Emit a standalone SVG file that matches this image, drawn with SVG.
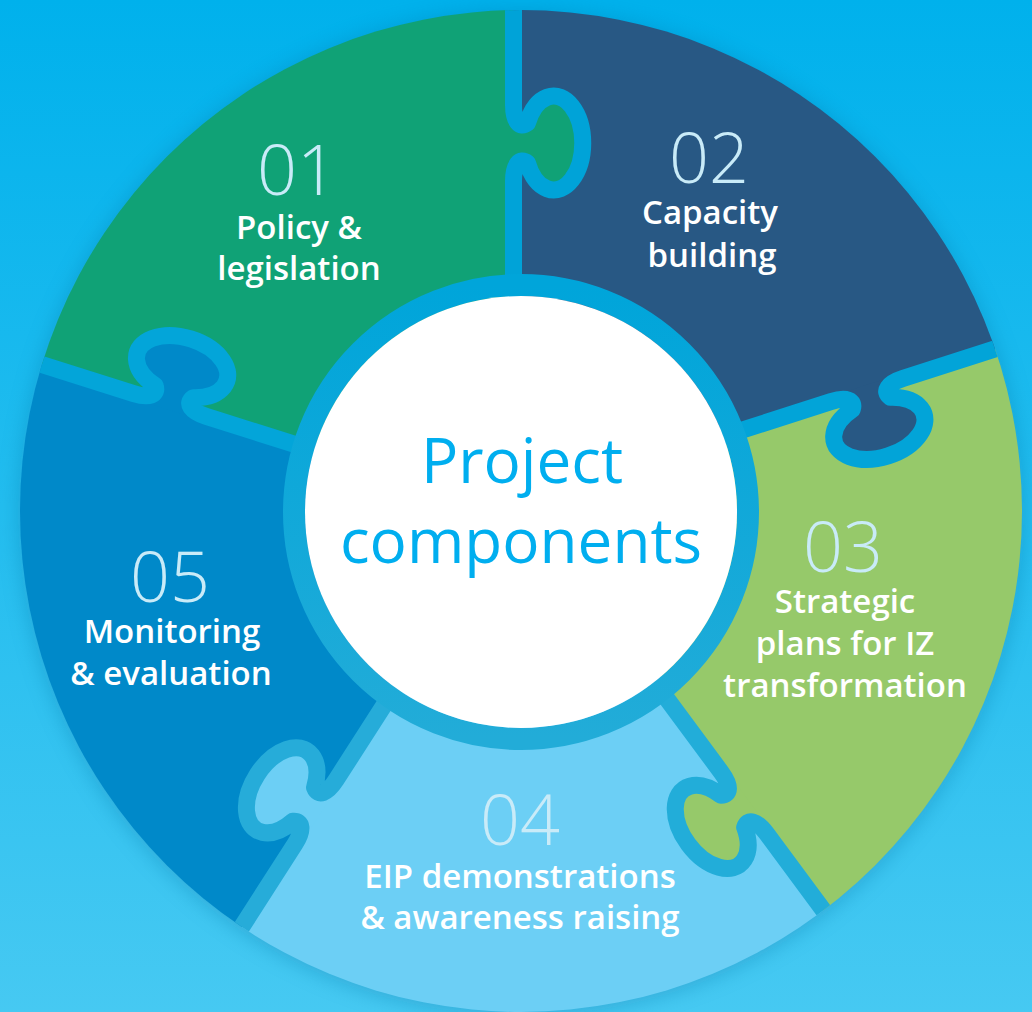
<svg xmlns="http://www.w3.org/2000/svg" xmlns:xlink="http://www.w3.org/1999/xlink" width="1032" height="1012" viewBox="0 0 1032 1012">
<defs>
<linearGradient id="bg" x1="0" y1="0" x2="0" y2="1012" gradientUnits="userSpaceOnUse">
<stop offset="0" stop-color="#00b1ec"/>
<stop offset="1" stop-color="#46c9f2"/>
</linearGradient>
<linearGradient id="ringg" x1="0" y1="286" x2="0" y2="738" gradientUnits="userSpaceOnUse">
<stop offset="0" stop-color="#00a5da"/>
<stop offset="1" stop-color="#22acd8"/>
</linearGradient>
<filter id="shadow" x="-20%" y="-20%" width="140%" height="140%">
<feGaussianBlur stdDeviation="10"/>
</filter>
<clipPath id="disc"><circle cx="521" cy="511" r="501"/></clipPath>
<path id="div" d="M -160 0 L -38 0 C -22 0 -14 6 -20 14 A 47 29 0 1 0 20 14 C 14 6 22 0 38 0 L 330 0"/>
<path id="tabfill" d="M -40 -5 L -38 0 C -22 0 -14 6 -20 14 A 47 29 0 1 0 20 14 C 14 6 22 0 38 0 L 40 -5 Z"/>
<style>
.num{font-family:"Open Sans","Noto Sans","Liberation Sans",sans-serif;font-weight:300;font-size:70px;fill:#c9ebf8;text-anchor:middle}
.lbl{font-family:"Open Sans","Noto Sans","Liberation Sans",sans-serif;font-weight:600;font-size:33px;fill:#ffffff;text-anchor:middle}
.ctr{font-family:"Open Sans","Noto Sans","Liberation Sans",sans-serif;font-weight:400;font-size:62px;fill:#00aeef;text-anchor:middle}
.gap{fill:none;stroke-width:17;stroke-linejoin:round}
</style>
</defs>
<rect width="1032" height="1012" fill="url(#bg)"/>
<circle cx="521" cy="513" r="503" fill="#0a78a8" opacity="0.35" filter="url(#shadow)"/>
<g clip-path="url(#disc)">
<g id="piece-01">
<polygon points="521,512 313.1,450.2 -116.2,314.7 -200,-200 513.5,-157 513.5,300" fill="#10a276"/>
</g>
<g id="piece-02">
<polygon points="521,512 513.5,300 513.5,-157 1250,-157 1152.6,298.2 729,434.4" fill="#285884"/>
</g>
<g id="piece-03">
<polygon points="521,512 729,434.4 1152.6,298.2 1250,1150 922.5,1044.2 654.7,682.4" fill="#96c96a"/>
</g>
<g id="piece-04">
<polygon points="521,512 654.7,682.4 922.5,1044.2 521,1250 153.5,1064.6 391.1,694.1" fill="#6ccff5"/>
</g>
<g id="piece-05">
<polygon points="521,512 391.1,694.1 153.5,1064.6 -250,800 -116.2,314.7 313.1,450.2" fill="#0089c9"/>
</g>
<g id="tabs">
<use xlink:href="#tabfill" transform="translate(513.5 143) rotate(-90)" fill="#10a276"/>
<use xlink:href="#tabfill" transform="translate(867 390) rotate(-17.8)" fill="#285884"/>
<use xlink:href="#tabfill" transform="translate(744 803) rotate(53.5)" fill="#96c96a"/>
<use xlink:href="#tabfill" transform="translate(315.5 812) rotate(122.7)" fill="#6ccff5"/>
<use xlink:href="#tabfill" transform="translate(170 405) rotate(197.5)" fill="#0089c9"/>
</g>
<g id="connectors">
<use xlink:href="#div" class="gap" transform="translate(513.5 143) rotate(-90)" stroke="#00a3d8"/>
<use xlink:href="#div" class="gap" transform="translate(867 390) rotate(-17.8)" stroke="#02a4d8"/>
<use xlink:href="#div" class="gap" transform="translate(744 803) rotate(53.5)" stroke="#22add9"/>
<use xlink:href="#div" class="gap" transform="translate(315.5 812) rotate(122.7)" stroke="#26acd9"/>
<use xlink:href="#div" class="gap" transform="translate(170 405) rotate(197.5)" stroke="#03a5d9"/>
</g>
</g>
<g id="label-01">
<text class="num" x="297" y="195">01</text>
<text class="lbl" x="299" y="239">Policy &amp;</text>
<text class="lbl" x="299" y="280">legislation</text>
</g>
<g id="label-02">
<text class="num" x="709" y="183">02</text>
<text class="lbl" x="710" y="224">Capacity</text>
<text class="lbl" x="712" y="267">building</text>
</g>
<g id="label-03">
<text class="num" x="843" y="572">03</text>
<text class="lbl" x="845" y="613">Strategic</text>
<text class="lbl" x="845" y="655">plans for IZ</text>
<text class="lbl" x="845" y="697">transformation</text>
</g>
<g id="label-04">
<text class="num" x="520" y="845">04</text>
<text class="lbl" x="520" y="888">EIP demonstrations</text>
<text class="lbl" x="520" y="929">&amp; awareness raising</text>
</g>
<g id="label-05">
<text class="num" x="170" y="602">05</text>
<text class="lbl" x="172" y="643">Monitoring</text>
<text class="lbl" x="171" y="685">&amp; evaluation</text>
</g>
<g id="center">
<circle cx="521" cy="512" r="227" fill="none" stroke="url(#ringg)" stroke-width="22"/>
<circle cx="521" cy="512" r="216" fill="#ffffff"/>
<text class="ctr" x="522" y="483">Project</text>
<text class="ctr" x="521" y="563">components</text>
</g>
</svg>
